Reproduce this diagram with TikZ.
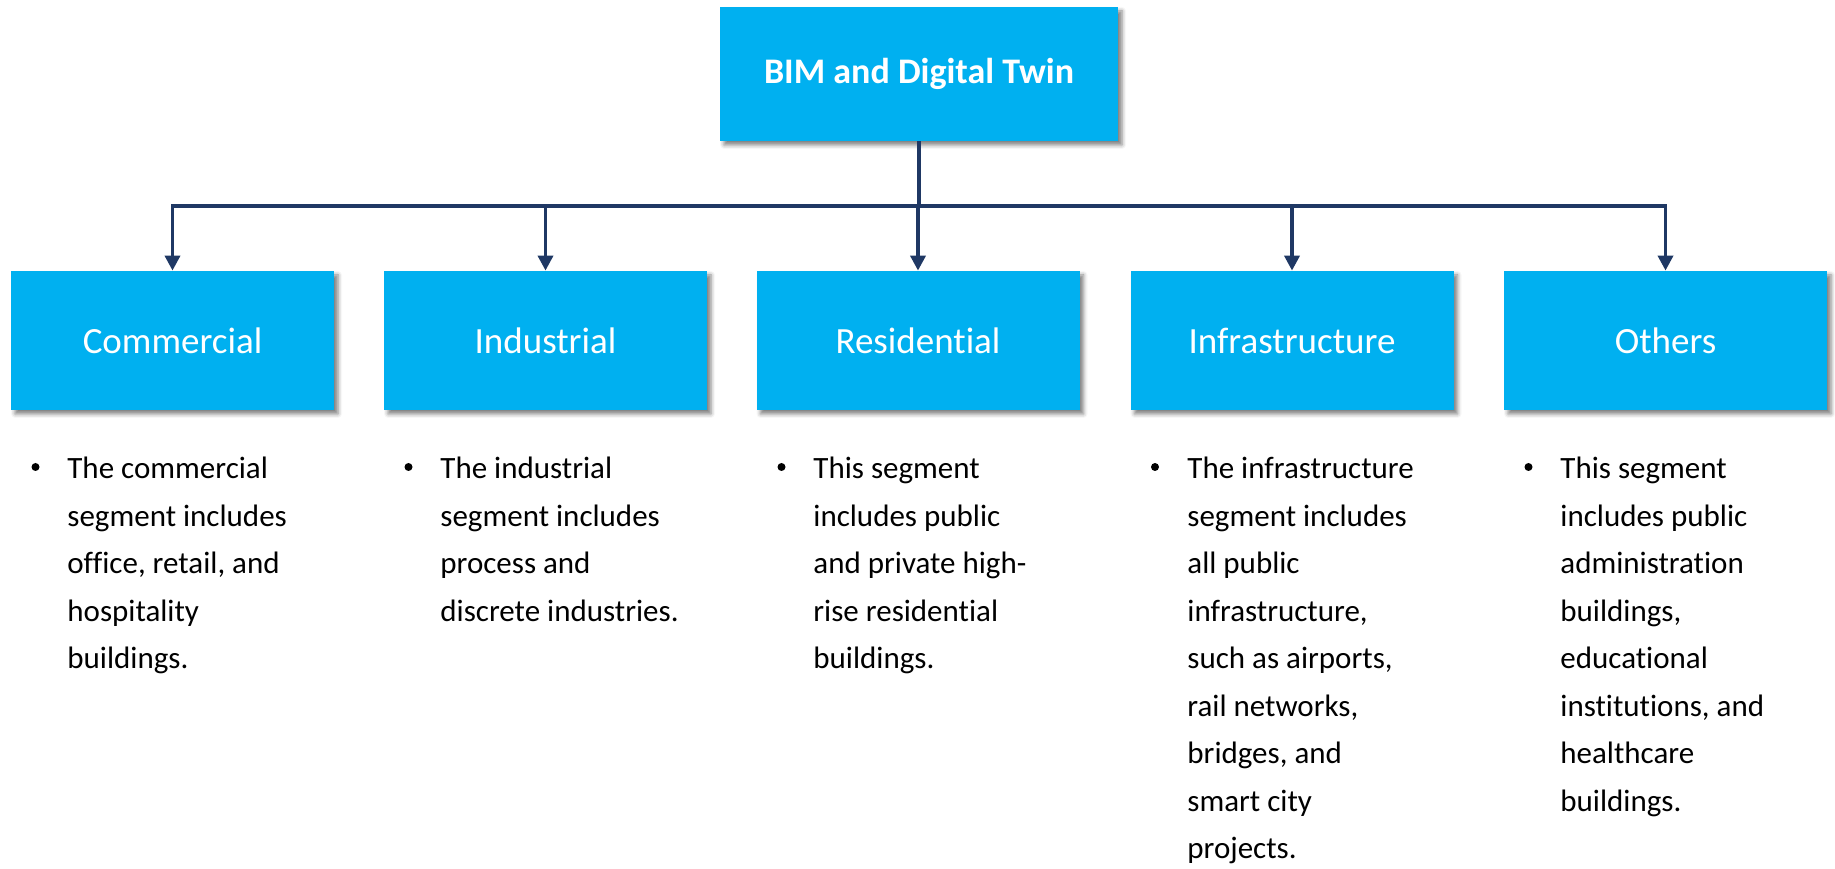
\documentclass[tikz,border=0pt]{standalone}
\usepackage{fontspec}
\setmainfont{Carlito}[Ligatures=NoCommon]
\usetikzlibrary{arrows.meta,shadows.blur}
\definecolor{segblue}{HTML}{00B0F0}
\definecolor{navy}{HTML}{1F3864}

\begin{document}
\begin{tikzpicture}[x=0.5pt,y=0.5pt,
  box/.style={fill=segblue, text=white, minimum width=161.5pt, minimum height=69.5pt, inner sep=0pt,
    blur shadow={shadow xshift=2pt, shadow yshift=-2pt, shadow blur radius=2pt, shadow opacity=50},
    font=\fontsize{18.5}{22}\selectfont},
  conn/.style={navy, line width=1.8pt},
  arr/.style={conn, -{Triangle[width=7.5pt,length=7.5pt]}},
  dot/.style={circle, fill=black, inner sep=0pt, minimum size=4pt},
  desc/.style={anchor=north west, align=left, inner sep=0pt, font=\fontsize{15.5}{23.75}\selectfont}]
\useasboundingbox (0,0) rectangle (1835,868);
\node[box, minimum width=199pt, minimum height=67pt, font=\bfseries\fontsize{18}{22}\selectfont] (top) at (919,794) {BIM and Digital Twin};
\node[box] (com) at (172.5,527.5) {Commercial};
\node[box] (ind) at (545.5,527.5) {Industrial};
\node[box] (res) at (918,527.5) {Residential};
\node[box] (inf) at (1292,527.5) {Infrastructure};
\node[box] (oth) at (1665.5,527.5) {Others};
\coordinate (fork) at (919,662);
\draw[conn] (top.south) -- (fork);
\foreach \n in {com,ind,res,inf,oth}
  \draw[arr] (fork) -| (\n.north);
\node[dot] (b1) at (35.5,401) {};
\node[dot] (b2) at (408.5,401) {};
\node[dot] (b3) at (781.5,401) {};
\node[dot] (b4) at (1155,401) {};
\node[dot] (b5) at (1528.5,401) {};
\node[desc] (t1) at (67,411) {The commercial\\segment includes\\office, retail, and\\hospitality\\buildings.};
\node[desc] (t2) at (440,411) {The industrial\\segment includes\\process and\\discrete industries.};
\node[desc] (t3) at (813,411) {This segment\\includes public\\and private high-\\rise residential\\buildings.};
\node[desc] (t4) at (1187,411) {The infrastructure\\segment includes\\all public\\infrastructure,\\such as airports,\\rail networks,\\bridges, and\\smart city\\projects.};
\node[desc] (t5) at (1560,411) {This segment\\includes public\\administration\\buildings,\\educational\\institutions, and\\healthcare\\buildings.};
\end{tikzpicture}
\end{document}
